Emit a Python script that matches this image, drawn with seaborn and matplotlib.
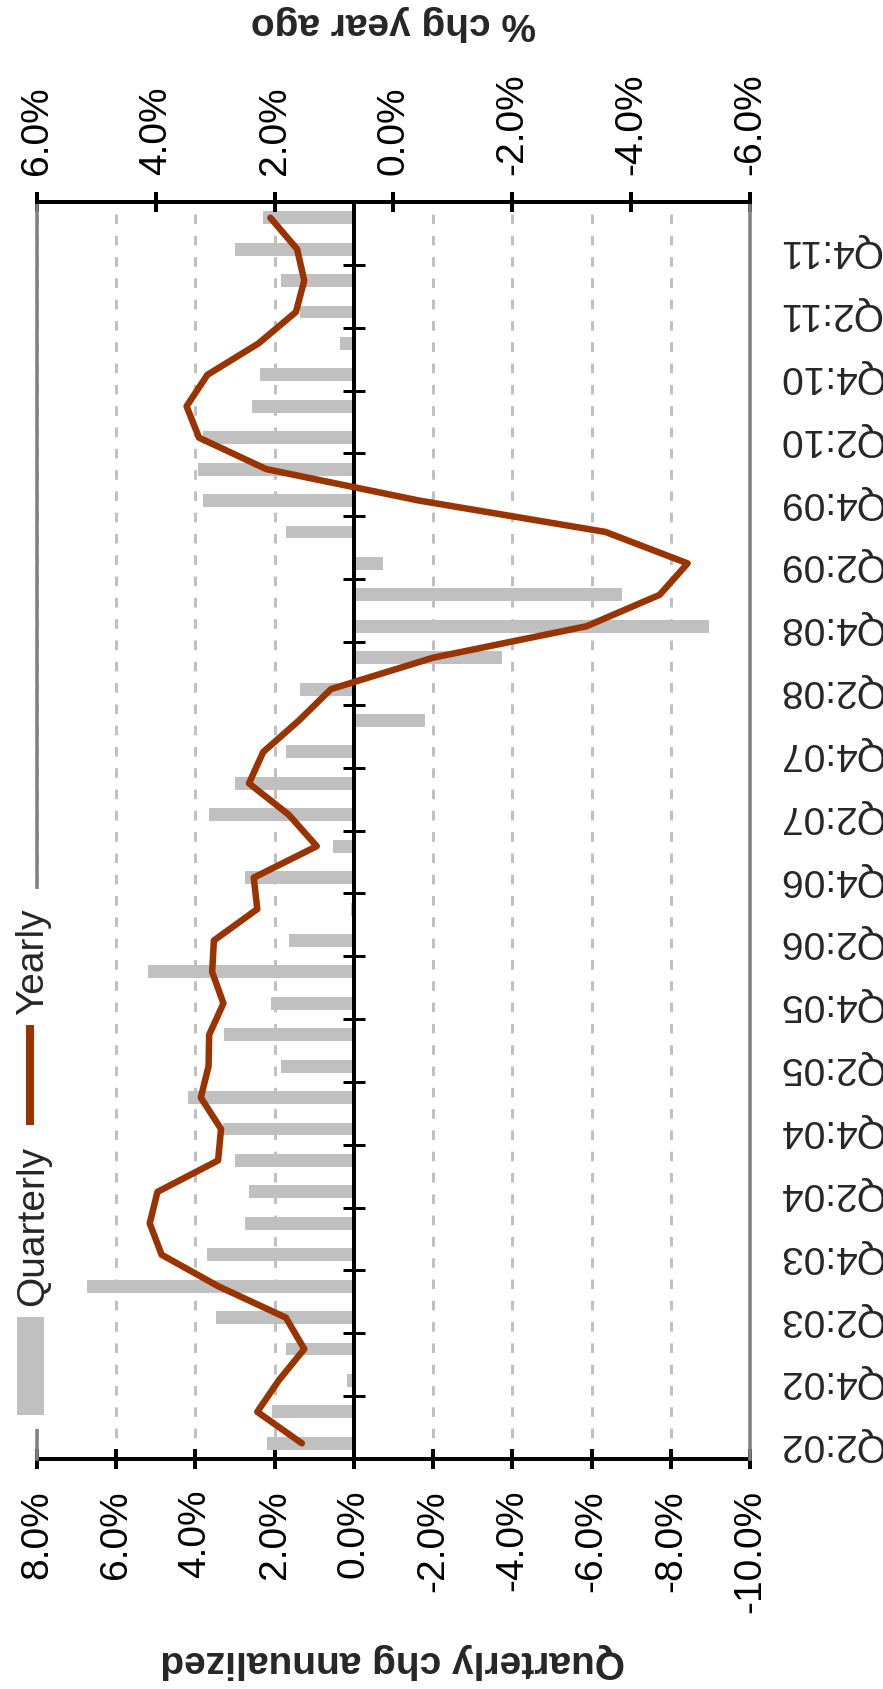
import matplotlib
matplotlib.use("Agg")
import matplotlib.pyplot as plt
from matplotlib.patches import Rectangle
from matplotlib.lines import Line2D
import seaborn as sns

# ── data ─────────────────────────────────────────────────────────────────────
quarters = ["Q2:02", "Q3:02", "Q4:02",
            "Q1:03", "Q2:03", "Q3:03", "Q4:03",
            "Q1:04", "Q2:04", "Q3:04", "Q4:04",
            "Q1:05", "Q2:05", "Q3:05", "Q4:05",
            "Q1:06", "Q2:06", "Q3:06", "Q4:06",
            "Q1:07", "Q2:07", "Q3:07", "Q4:07",
            "Q1:08", "Q2:08", "Q3:08", "Q4:08",
            "Q1:09", "Q2:09", "Q3:09", "Q4:09",
            "Q1:10", "Q2:10", "Q3:10", "Q4:10",
            "Q1:11", "Q2:11", "Q3:11", "Q4:11",
            "Q1:12"]

quarterly_chg = [2.19, 2.07, 0.17,
                 1.71, 3.47, 6.74, 3.71,
                 2.74, 2.64, 3.01, 3.29,
                 4.19, 1.83, 3.27, 2.10,
                 5.20, 1.64, 0.07, 2.74,
                 0.53, 3.66, 3.01, 1.71,
                 -1.81, 1.36, -3.74, -8.96,
                 -6.76, -0.73, 1.71, 3.81,
                 3.93, 3.81, 2.56, 2.36,
                 0.36, 1.36, 1.83, 3.01,
                 2.29]

yearly_chg = [1.54, 2.29, 1.93,
              1.50, 1.81, 2.95, 3.90,
              4.10, 3.97, 2.95, 2.90,
              3.24, 3.11, 3.10, 2.86,
              3.05, 3.02, 2.29, 2.35,
              1.29, 1.76, 2.43, 2.19,
              1.59, 1.05, -0.67, -3.25,
              -4.48, -4.95, -3.57, -0.43,
              2.14, 3.27, 3.48, 3.13,
              2.27, 1.64, 1.50, 1.62,
              2.07]

q_ticks = [8, 6, 4, 2, 0, -2, -4, -6, -8, -10]
q_tick_labels = ["8.0%", "6.0%", "4.0%", "2.0%", "0.0%",
                 "-2.0%", "-4.0%", "-6.0%", "-8.0%", "-10.0%"]
y_ticks = [6, 4, 2, 0, -2, -4, -6]
y_tick_labels = ["6.0%", "4.0%", "2.0%", "0.0%", "-2.0%", "-4.0%", "-6.0%"]

BAR_COLOR = "#c0c0c0"
LINE_COLOR = "#993300"

W, H, DPI = 883, 1690, 100


def px(v):
    """pixels -> points"""
    return v * 72 / DPI


sns.set_style("white")
plt.rcParams["font.family"] = ["Liberation Sans", "DejaVu Sans"]
FS = 28

fig = plt.figure(figsize=(W / DPI, H / DPI), dpi=DPI)
ax = fig.add_axes([36.8 / W, 1 - 1460 / H, (750 - 36.8) / W, (1460 - 203) / H])

pos = list(range(len(quarters)))

# quarterly bars (horizontal, chart is turned on its side)
sns.barplot(x=quarterly_chg, y=pos, orient="h", native_scale=True,
            color=BAR_COLOR, saturation=1, width=0.41, linewidth=0,
            errorbar=None, ax=ax)
ax.set_xlim(8, -10)
ax.set_ylim(-0.5, len(quarters) - 0.5)
ax.set_xlabel(""); ax.set_ylabel("")
ax.set_axisbelow(True)
ax.grid(True, axis="x", color=BAR_COLOR, linewidth=px(3),
        linestyle=(0, (3.2, 3.9)))
ax.grid(False, axis="y")

ax.set_xticks(q_ticks, q_tick_labels, rotation=90, fontsize=FS)
ax.tick_params(axis="x", direction="inout", length=px(20), width=px(4),
               pad=px(20), colors="black", bottom=True, top=False)

# zero line doubles as the category axis
ax.spines["left"].set_position(("data", 0))
ax.spines["left"].set_color("black")
ax.spines["left"].set_linewidth(px(4))
ax.spines["bottom"].set_color("black")
ax.spines["bottom"].set_linewidth(px(4))
ax.spines["top"].set_visible(False)
ax.spines["right"].set_visible(False)

ax.set_yticks(pos[::2], quarters[::2])
ax.set_yticks([p + 1.5 for p in pos[:-2:2]], minor=True)
ax.tick_params(axis="y", which="major", left=False, right=False, length=0,
               labelleft=False, labelright=True, labelrotation=180,
               labelsize=FS, pad=px(28))
ax.tick_params(axis="y", which="minor", left=True, right=False,
               direction="inout", length=px(22), width=px(3), color="black")
for t in ax.yaxis.get_major_ticks():
    t.label2.set_va("center")

# yearly line on its own scale (top axis)
ax2 = ax.twiny()
sns.lineplot(x=yearly_chg, y=pos, orient="y", color=LINE_COLOR,
             linewidth=px(6.5), ax=ax2)
ax2.set_xlim(6, -6)
ax2.set_ylim(-0.5, len(quarters) - 0.5)
ax2.set_xlabel(""); ax2.set_ylabel("")
ax2.set_xticks(y_ticks, y_tick_labels, rotation=90, fontsize=FS)
ax2.tick_params(axis="x", direction="inout", length=px(20), width=px(4),
                pad=px(18), colors="black", top=True, bottom=False,
                labeltop=True, labelbottom=False)
ax2.tick_params(axis="y", left=False, right=False,
                labelleft=False, labelright=False)
ax2.spines["bottom"].set_visible(False)
ax2.spines["top"].set_color("black")
ax2.spines["top"].set_linewidth(px(4))
for s in ["left", "right"]:
    ax2.spines[s].set_color("#808080")
    ax2.spines[s].set_linewidth(px(3.5))

# axis titles
fig.text(393 / W, 1 - 1661 / H, "Quarterly chg annualized", rotation=180,
         ha="center", va="center", fontsize=FS, fontweight="bold")
fig.text(393 / W, 1 - 23 / H, "% chg year ago", rotation=180,
         ha="center", va="center", fontsize=FS, fontweight="bold")

# legend (drawn by hand, rotated with the chart)
fig.add_artist(Rectangle((8 / W, 1 - 1430 / H), 52 / W, 540 / H,
                         transform=fig.transFigure, facecolor="white",
                         edgecolor="none", zorder=3))
fig.add_artist(Rectangle((17 / W, 1 - 1416 / H), 27 / W, 98 / H,
                         transform=fig.transFigure, facecolor=BAR_COLOR,
                         edgecolor="none", zorder=4))
fig.add_artist(Line2D([29.5 / W, 29.5 / W], [1 - 1126 / H, 1 - 1026 / H],
                      transform=fig.transFigure, color=LINE_COLOR,
                      linewidth=px(8), solid_capstyle="butt", zorder=4))
fig.text(33 / W, 1 - 1226 / H, "Quarterly", rotation=90, ha="center",
         va="center", fontsize=FS, zorder=4)
fig.text(33 / W, 1 - 962 / H, "Yearly", rotation=90, ha="center",
         va="center", fontsize=FS, zorder=4)

fig.savefig("out.png", dpi=DPI)
plt.close()
